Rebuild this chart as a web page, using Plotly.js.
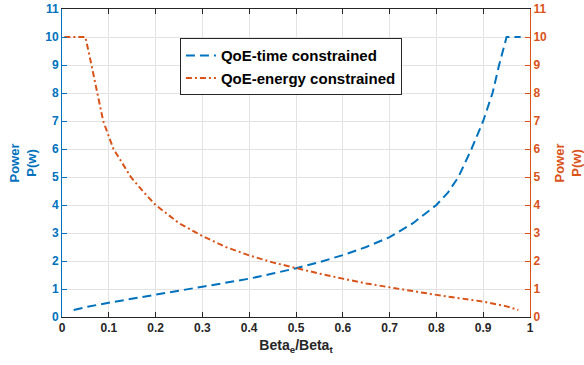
<!DOCTYPE html>
<html>
<head>
<meta charset="utf-8">
<script src="https://cdn.plot.ly/plotly-3.0.1.min.js"></script>
<style>html,body{margin:0;padding:0;background:#fff;}#chart{width:584px;height:365px;}</style>
</head>
<body>
<div id="chart"></div>
<script>
// QoE-time constrained (left axis)
var timeX = [0.025, 0.05, 0.1, 0.15, 0.2, 0.25, 0.3, 0.35, 0.4, 0.45, 0.5, 0.55, 0.6, 0.65, 0.7, 0.75, 0.8, 0.825, 0.847, 0.875, 0.9, 0.92, 0.934, 0.95, 0.98];
var timeY = [0.25, 0.35, 0.51, 0.66, 0.80, 0.94, 1.08, 1.22, 1.37, 1.55, 1.74, 1.96, 2.21, 2.5, 2.85, 3.35, 4.0, 4.45, 5, 6, 7, 8, 9, 10, 10];
// QoE-energy constrained (right axis)
var energyX = [0.005, 0.05, 0.063, 0.075, 0.088, 0.1, 0.11, 0.125, 0.147, 0.175, 0.2, 0.25, 0.3, 0.35, 0.4, 0.45, 0.5, 0.55, 0.6, 0.65, 0.7, 0.75, 0.8, 0.85, 0.9, 0.95, 0.975];
var energyY = [10, 10, 9, 8, 7, 6.45, 6, 5.6, 5, 4.45, 4.0, 3.35, 2.89, 2.5, 2.2, 1.95, 1.74, 1.55, 1.37, 1.2, 1.06, 0.92, 0.79, 0.67, 0.55, 0.38, 0.25];
var names = ['QoE-time constrained', 'QoE-energy constrained'];
var xTicks = [0, 0.1, 0.2, 0.3, 0.4, 0.5, 0.6, 0.7, 0.8, 0.9, 1];
var xTickText = ['0', '0.1', '0.2', '0.3', '0.4', '0.5', '0.6', '0.7', '0.8', '0.9', '1'];
var yTicks = [0,1,2,3,4,5,6,7,8,9,10,11];

var blue = '#0072BD', orange = '#D95319', dark = '#262626';
var fnt = 'Liberation Sans, Arial, sans-serif';

var traces = [
  {x: timeX, y: timeY, name: names[0], type: 'scatter', mode: 'lines',
   line: {color: blue, width: 2, dash: '9px,5px'}, yaxis: 'y'},
  {x: energyX, y: energyY, name: names[1], type: 'scatter', mode: 'lines',
   line: {color: orange, width: 2, dash: '6px,3px,2px,3px'}, yaxis: 'y2'}
];

var layout = {
  width: 584, height: 365,
  margin: {l: 62, r: 54, t: 9, b: 48},
  paper_bgcolor: '#fff', plot_bgcolor: '#fff',
  font: {family: fnt, size: 12, color: dark, weight: 'bold'},
  showlegend: true,
  legend: {x: 0.252, y: 0.905, xanchor: 'left', yanchor: 'top',
    bgcolor: '#fff', bordercolor: dark, borderwidth: 1,
    font: {family: fnt, size: 15, color: '#000', weight: 'bold'},
    itemwidth: 30, tracegroupgap: 0},
  xaxis: {range: [0, 1], tickvals: xTicks, ticktext: xTickText,
    ticks: 'inside', ticklen: 5, tickcolor: dark, showline: true, linecolor: dark, linewidth: 1,
    mirror: 'ticks', showgrid: true, gridcolor: '#e3e3e3', zeroline: false,
    tickfont: {family: fnt, size: 12, color: dark, weight: 'bold'},
    title: {text: 'Beta<sub>e</sub>/Beta<sub>t</sub>', font: {family: fnt, size: 14, color: dark, weight: 'bold'}, standoff: 5}},
  yaxis: {range: [0, 11], tickvals: yTicks, ticks: 'inside', ticklen: 5, tickcolor: blue,
    showline: true, linecolor: blue, linewidth: 1, showgrid: true, gridcolor: '#e3e3e3', zeroline: false,
    tickfont: {family: fnt, size: 12, color: blue, weight: 'bold'},
    title: {text: 'Power<br>P(w)', font: {family: fnt, size: 13, color: blue, weight: 'bold'}, standoff: 5}},
  yaxis2: {range: [0, 11], tickvals: yTicks, overlaying: 'y', side: 'right', ticks: 'inside', ticklen: 5,
    tickcolor: orange, showline: true, linecolor: orange, linewidth: 1, showgrid: false, zeroline: false,
    tickfont: {family: fnt, size: 12, color: orange, weight: 'bold'},
    title: {text: 'Power<br>P(w)', font: {family: fnt, size: 13, color: orange, weight: 'bold'}, standoff: 10}}
};

Plotly.newPlot('chart', traces, layout, {displayModeBar: false, staticPlot: true});
</script>
</body>
</html>
